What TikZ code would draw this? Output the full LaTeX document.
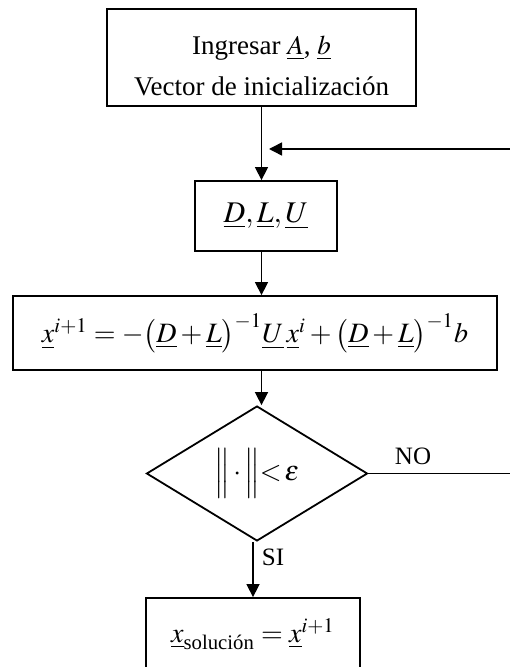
\documentclass[tikz,border=0pt]{standalone}
\usepackage{amsmath}
\usepackage{mathptmx}
\usepackage{fontspec}
\setmainfont{Liberation Serif}
\usetikzlibrary{shapes.geometric,arrows.meta}
\tikzset{
  box/.style={draw,line width=0.9pt,inner sep=0pt,align=center,font=\fontsize{12}{14}\selectfont},
  arr/.style={line width=0.75pt,-{Triangle[length=6.5pt,width=6.5pt]}},
  lbl/.style={inner sep=0pt,font=\fontsize{12.5}{14}\selectfont}
}
\begin{document}
\begin{tikzpicture}[x=0.5pt,y=-0.5pt]
\useasboundingbox (0,0) rectangle (509,667);
\node[box,minimum width=154.5pt,minimum height=48.5pt] (top) at (261.5,57.5) {};
\node[inner sep=0pt,align=center,font=\fontsize{13.5}{15}\selectfont] (toptext) at (261.5,66)
  {Ingresar $\underline{A}$, $\underline{b}$\\[5.5pt]Vector de inicialización};
\node[box,minimum width=71pt,minimum height=35pt,font=\fontsize{15}{17}\selectfont] (dlu) at (266,216)
  {$\underline{D},\underline{L},\underline{U}$};
\node[box,minimum width=242pt,minimum height=37pt,font=\fontsize{14}{16}\selectfont] (eq) at (255,333)
  {$\underline{x}^{i+1}=-\bigl(\underline{D}+\underline{L}\bigr)^{-1}\underline{U}\,\underline{x}^{i}+\bigl(\underline{D}+\underline{L}\bigr)^{-1}b$};
\node[draw,diamond,line width=0.9pt,inner sep=0pt,minimum width=110.5pt,minimum height=63.5pt,font=\fontsize{14}{16}\selectfont] (dec) at (257,473.5)
  {$\Big\|\,{\cdot}\,\Big\|{<}\,\varepsilon$\hspace{4pt}};
\node[box,minimum width=107pt,minimum height=36pt,font=\fontsize{14}{16}\selectfont] (sol) at (253,634)
  {$\underline{x}_{\text{solución}}=\underline{x}^{i+1}$};
\node[lbl] (no) at (413,456.5) {NO};
\node[lbl] (si) at (273,557) {SI};
\coordinate (er) at (514,473.5);
\coordinate (tr) at (514,149);
\coordinate (fb) at (269,149);
\draw[arr] (top.south) -- (top.south |- dlu.north);
\draw[arr] (top.south |- dlu.south) -- (top.south |- eq.north);
\draw[arr] (top.south |- eq.south) -- (top.south |- dec.north);
\draw[arr] (sol.north |- dec.south) -- (sol.north);
\draw[arr] (dec.east) -- (er) -- (tr) -- (fb);
\end{tikzpicture}
\end{document}
